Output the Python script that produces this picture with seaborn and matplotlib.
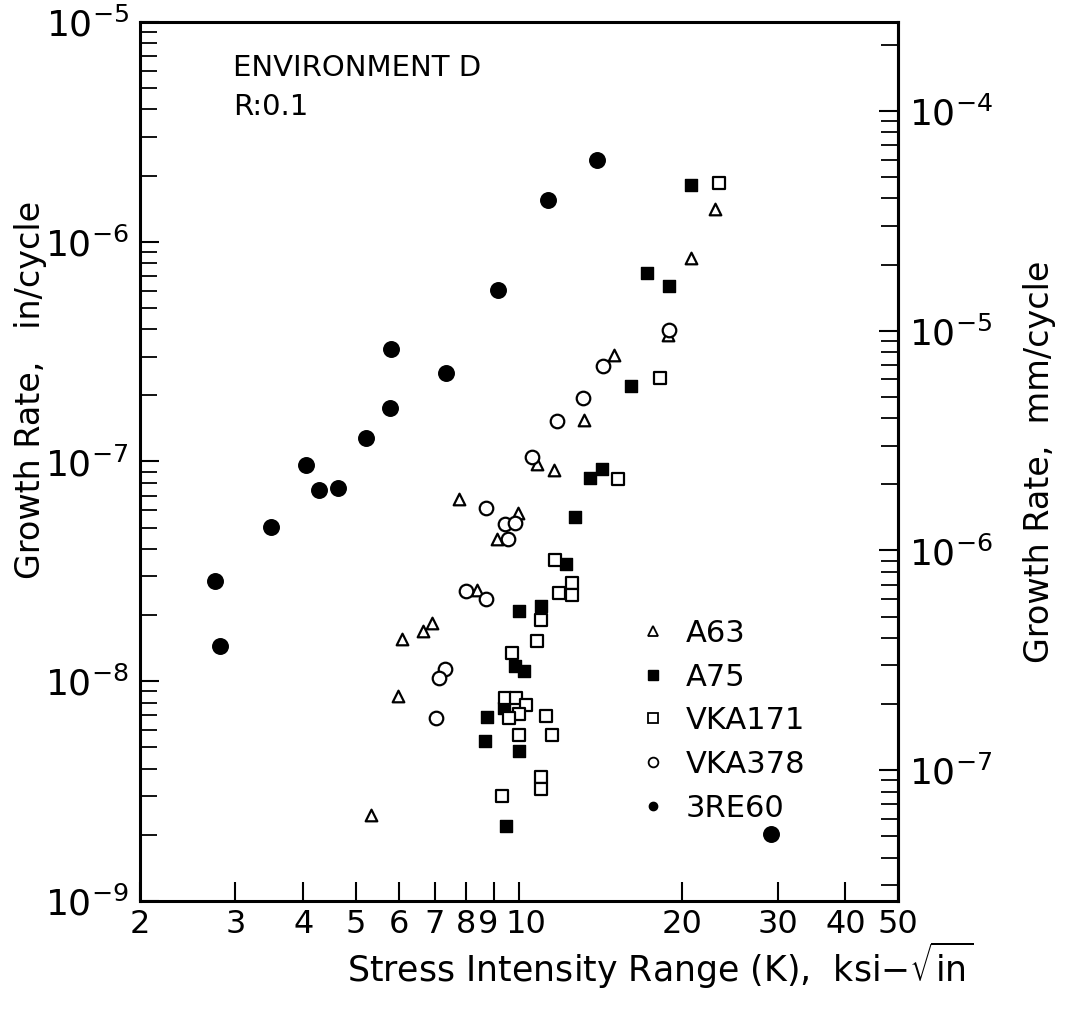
import numpy as np
import pandas as pd
import matplotlib
matplotlib.use("Agg")
import matplotlib.pyplot as plt
from matplotlib.lines import Line2D
from matplotlib.transforms import ScaledTranslation
from matplotlib.ticker import FixedLocator, NullLocator, LogLocator, FixedFormatter
import seaborn as sns

# ---------------- data ----------------
a63_k = [7.75, 9.96, 9.1, 10.8, 11.6, 8.37, 6.91, 6.65, 6.08, 5.98, 5.33, 13.2, 15.0, 18.8, 20.8, 23.0]
a63_r = [6.75e-8, 5.83e-8, 4.44e-8, 9.75e-8, 9.14e-8, 2.60e-8, 1.84e-8, 1.69e-8, 1.56e-8, 8.57e-9,
         2.46e-9, 1.55e-7, 3.05e-7, 3.77e-7, 8.43e-7, 1.41e-6]

a75_k = [20.8, 17.2, 18.9, 16.1, 14.2, 13.5, 12.7, 12.2, 11.0, 10.0, 9.84, 10.2, 9.38, 8.73, 8.65, 10.0, 9.46]
a75_r = [1.81e-6, 7.21e-7, 6.3e-7, 2.21e-7, 9.25e-8, 8.41e-8, 5.58e-8, 3.42e-8, 2.20e-8, 2.09e-8,
         1.17e-8, 1.11e-8, 7.55e-9, 6.87e-9, 5.35e-9, 4.82e-9, 2.19e-9]

vka171_k = [23.4, 18.2, 15.2, 11.65, 12.5, 11.85, 12.5, 11.0, 10.8, 9.7, 9.42, 9.87, 10.3, 10.0, 9.59,
            11.2, 10.0, 11.5, 11.0, 11.0, 9.31]
vka171_r = [1.85e-6, 2.40e-7, 8.32e-8, 3.56e-8, 2.80e-8, 2.52e-8, 2.47e-8, 1.90e-8, 1.52e-8, 1.35e-8,
            8.39e-9, 8.39e-9, 7.8e-9, 7.1e-9, 6.8e-9, 6.95e-9, 5.69e-9, 5.69e-9, 3.66e-9, 3.24e-9, 3.01e-9]

vka378_k = [10.57, 8.69, 9.42, 9.84, 9.55, 7.98, 8.69, 7.30, 7.11, 7.03, 11.75, 13.1, 14.3, 18.9]
vka378_r = [1.05e-7, 6.14e-8, 5.2e-8, 5.25e-8, 4.44e-8, 2.58e-8, 2.37e-8, 1.14e-8, 1.04e-8, 6.81e-9,
            1.53e-7, 1.95e-7, 2.72e-7, 3.96e-7]

re60_k = [2.75, 2.81, 3.49, 4.05, 4.28, 4.63, 5.22, 5.78, 5.80, 7.33, 9.15, 11.3, 13.9, 29.2]
re60_r = [2.86e-8, 1.45e-8, 5.04e-8, 9.6e-8, 7.4e-8, 7.57e-8, 1.28e-7, 1.75e-7, 3.25e-7, 2.53e-7,
          6.03e-7, 1.55e-6, 2.35e-6, 2.02e-9]

series_names = ["A63", "A75", "VKA171", "VKA378", "3RE60"]
x_tick_values = [2, 3, 4, 5, 6, 7, 8, 9, 10, 20, 30, 40, 50]
x_tick_labels = ["2", "3", "4", "5", "6", "7", "8", "9", "10", "20", "30", "40", "50"]
left_decades = [1e-9, 1e-8, 1e-7, 1e-6, 1e-5]
left_labels = [r"$10^{-9}$", r"$10^{-8}$", r"$10^{-7}$", r"$10^{-6}$", r"$10^{-5}$"]
right_decades = [1e-7, 1e-6, 1e-5, 1e-4]
right_labels = [r"$10^{-7}$", r"$10^{-6}$", r"$10^{-5}$", r"$10^{-4}$"]

frames = []
for name, k, r in [("A63", a63_k, a63_r), ("A75", a75_k, a75_r), ("VKA171", vka171_k, vka171_r),
                   ("VKA378", vka378_k, vka378_r), ("3RE60", re60_k, re60_r)]:
    frames.append(pd.DataFrame({"K": k, "rate": r, "series": name}))
df = pd.concat(frames, ignore_index=True)

# ---------------- style ----------------
sns.set_style("ticks")
plt.rcParams["font.family"] = ["DejaVu Sans"]
plt.rcParams["mathtext.fontset"] = "dejavusans"
for key in ["text.color", "axes.labelcolor", "xtick.color", "ytick.color", "axes.edgecolor"]:
    plt.rcParams[key] = "black"

styles = {
    "A63":    dict(marker="^", s=70,  color="white", edgecolor="black", linewidth=1.6),
    "A75":    dict(marker="s", s=70,  color="black", edgecolor="black", linewidth=1.0),
    "VKA171": dict(marker="s", s=70,  color="white", edgecolor="black", linewidth=1.6),
    "VKA378": dict(marker="o", s=95,  color="white", edgecolor="black", linewidth=1.6),
    "3RE60":  dict(marker="o", s=125, color="black", edgecolor="black", linewidth=1.0),
}

fig = plt.figure(figsize=(10.65, 10.11), dpi=100)
ax = fig.add_axes([140 / 1065, 1 - 901 / 1011, 758 / 1065, 879 / 1011])

for name in series_names:
    sub = df[df["series"] == name]
    sns.scatterplot(data=sub, x="K", y="rate", ax=ax, legend=False, zorder=3, **styles[name])

ax.set_xscale("log")
ax.set_yscale("log")
ax.set_xlim(2, 50)
ax.set_ylim(1e-9, 1e-5)

# x ticks
ax.xaxis.set_major_locator(FixedLocator(x_tick_values))
ax.xaxis.set_major_formatter(FixedFormatter(x_tick_labels))
ax.xaxis.set_minor_locator(NullLocator())
ax.tick_params(axis="x", which="major", direction="in", length=14, width=1.5,
               labelsize=23, pad=6, top=False)
# nudge the crowded "9" and "10" labels apart
for lab, val in zip(ax.get_xticklabels(), x_tick_values):
    if val == 9:
        lab.set_transform(lab.get_transform() + ScaledTranslation(-4 / 72, 0, fig.dpi_scale_trans))
    elif val == 10:
        lab.set_transform(lab.get_transform() + ScaledTranslation(5 / 72, 0, fig.dpi_scale_trans))

# left y ticks
ax.yaxis.set_major_locator(FixedLocator(left_decades))
ax.yaxis.set_major_formatter(FixedFormatter(left_labels))
ax.yaxis.set_minor_locator(LogLocator(base=10, subs=np.arange(2, 10)))
ax.tick_params(axis="y", which="major", direction="in", length=14, width=1.5,
               labelsize=26, pad=8, right=False)
ax.tick_params(axis="y", which="minor", direction="in", length=12, width=1.3,
               right=False)

for sp in ax.spines.values():
    sp.set_linewidth(2.2)
    sp.set_color("black")

# right axis in mm/cycle
sec = ax.secondary_yaxis("right", functions=(lambda v: v * 25.4, lambda v: v / 25.4))
sec.yaxis.set_major_locator(FixedLocator(right_decades))
sec.yaxis.set_major_formatter(FixedFormatter(right_labels))
sec.yaxis.set_minor_locator(LogLocator(base=10, subs=np.arange(2, 10)))
sec.tick_params(axis="y", which="major", direction="in", length=14, width=1.5,
                labelsize=26, pad=8)
sec.tick_params(axis="y", which="minor", direction="in", length=12, width=1.3)
sec.spines["right"].set_linewidth(2.2)
sec.set_ylabel("Growth Rate,  mm/cycle", fontsize=24, va="center", ha="center")
sec.yaxis.set_label_coords(1.187, 0.5, transform=ax.transAxes)

ax.set_xlabel(r"Stress Intensity Range (K),  ksi$-\sqrt{\mathrm{in}}$", fontsize=25,
              va="center", ha="center")
ax.xaxis.set_label_coords(0.686, -0.073)
ax.set_ylabel("Growth Rate,   in/cycle", fontsize=24, va="center", ha="center")
ax.yaxis.set_label_coords(-0.145, 0.581)

ax.text(0.123, 0.948, "ENVIRONMENT D", transform=ax.transAxes, fontsize=21,
        ha="left", va="center")
ax.text(0.123, 0.903, "R:0.1", transform=ax.transAxes, fontsize=21,
        ha="left", va="center")

# legend
handles = [
    Line2D([], [], linestyle="none", marker="^", markersize=7, markerfacecolor="white",
           markeredgecolor="black", markeredgewidth=1.3),
    Line2D([], [], linestyle="none", marker="s", markersize=7, markerfacecolor="black",
           markeredgecolor="black"),
    Line2D([], [], linestyle="none", marker="s", markersize=7, markerfacecolor="white",
           markeredgecolor="black", markeredgewidth=1.3),
    Line2D([], [], linestyle="none", marker="o", markersize=7, markerfacecolor="white",
           markeredgecolor="black", markeredgewidth=1.3),
    Line2D([], [], linestyle="none", marker="o", markersize=6, markerfacecolor="black",
           markeredgecolor="black"),
]
ax.legend(handles, series_names, loc="upper left", bbox_to_anchor=(0.66, 0.321),
          frameon=False, fontsize=22, handlelength=0.8, handletextpad=0.7,
          labelspacing=0.48, borderpad=0, borderaxespad=0)

fig.savefig("out.png", dpi=100, facecolor="white")
